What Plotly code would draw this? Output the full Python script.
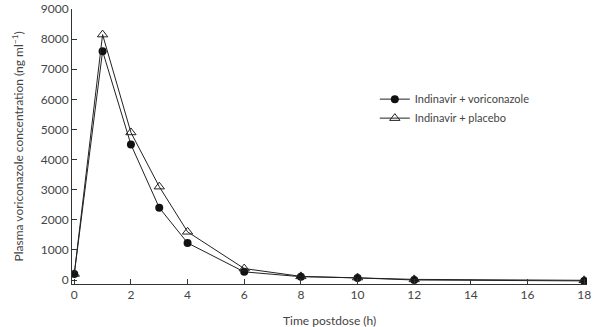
import plotly.graph_objects as go

time_h = [0, 1, 2, 3, 4, 6, 8, 10, 12, 18]
vori = [200, 7600, 4500, 2400, 1230, 270, 110, 70, 0, -30]
placebo = [200, 8150, 4900, 3100, 1600, 380, 120, 80, 20, -10]
x_ticks = [0, 2, 4, 6, 8, 10, 12, 14, 16, 18]
y_ticks = [0, 1000, 2000, 3000, 4000, 5000, 6000, 7000, 8000, 9000]

fig = go.Figure()
fig.add_trace(go.Scatter(x=time_h, y=vori, mode="lines+markers", name="Indinavir + voriconazole",
                         line=dict(color="#222", width=1),
                         marker=dict(symbol="circle", size=8, color="#111")))
fig.add_trace(go.Scatter(x=time_h, y=placebo, mode="lines+markers", name="Indinavir + placebo",
                         line=dict(color="#222", width=1),
                         marker=dict(symbol="triangle-up-open", size=9, color="#222", line=dict(width=1))))

font = dict(family="Lato, Open Sans, sans-serif", size=12, color="#444")
fig.update_layout(
    width=599, height=327, margin=dict(l=72, r=12, t=9, b=43, autoexpand=False),
    paper_bgcolor="white", plot_bgcolor="white", font=font,
    showlegend=True,
    legend=dict(x=0.588, y=0.725, xanchor="left", yanchor="top", bgcolor="rgba(0,0,0,0)",
                font=dict(size=11, color="#444"), tracegroupgap=0, itemwidth=30),
    xaxis=dict(range=[-0.08, 18.1], tickvals=x_ticks, ticks="inside", ticklen=5, tickcolor="#333",
               showline=True, linecolor="#333", linewidth=1, showgrid=False, zeroline=False,
               automargin=False),
    yaxis=dict(range=[-133, 9000], tickvals=y_ticks, ticks="inside", ticklen=5, tickcolor="#333",
               showline=True, linecolor="#333", linewidth=1, showgrid=False, zeroline=False,
               automargin=False),
    annotations=[
        dict(text="Time postdose (h)", xref="paper", yref="paper", x=0.5, y=-0.131,
             xanchor="center", yanchor="middle", showarrow=False, font=dict(size=12, color="#444")),
        dict(text="Plasma voriconazole concentration (ng ml<sup>−1</sup>)", xref="paper", yref="paper",
             x=-0.105, y=0.5, xanchor="center", yanchor="middle", textangle=-90, showarrow=False,
             font=dict(size=12, color="#444")),
    ],
)
fig.write_html("out.html", config={"displayModeBar": False},
               post_script="document.body.style.margin='0';")
